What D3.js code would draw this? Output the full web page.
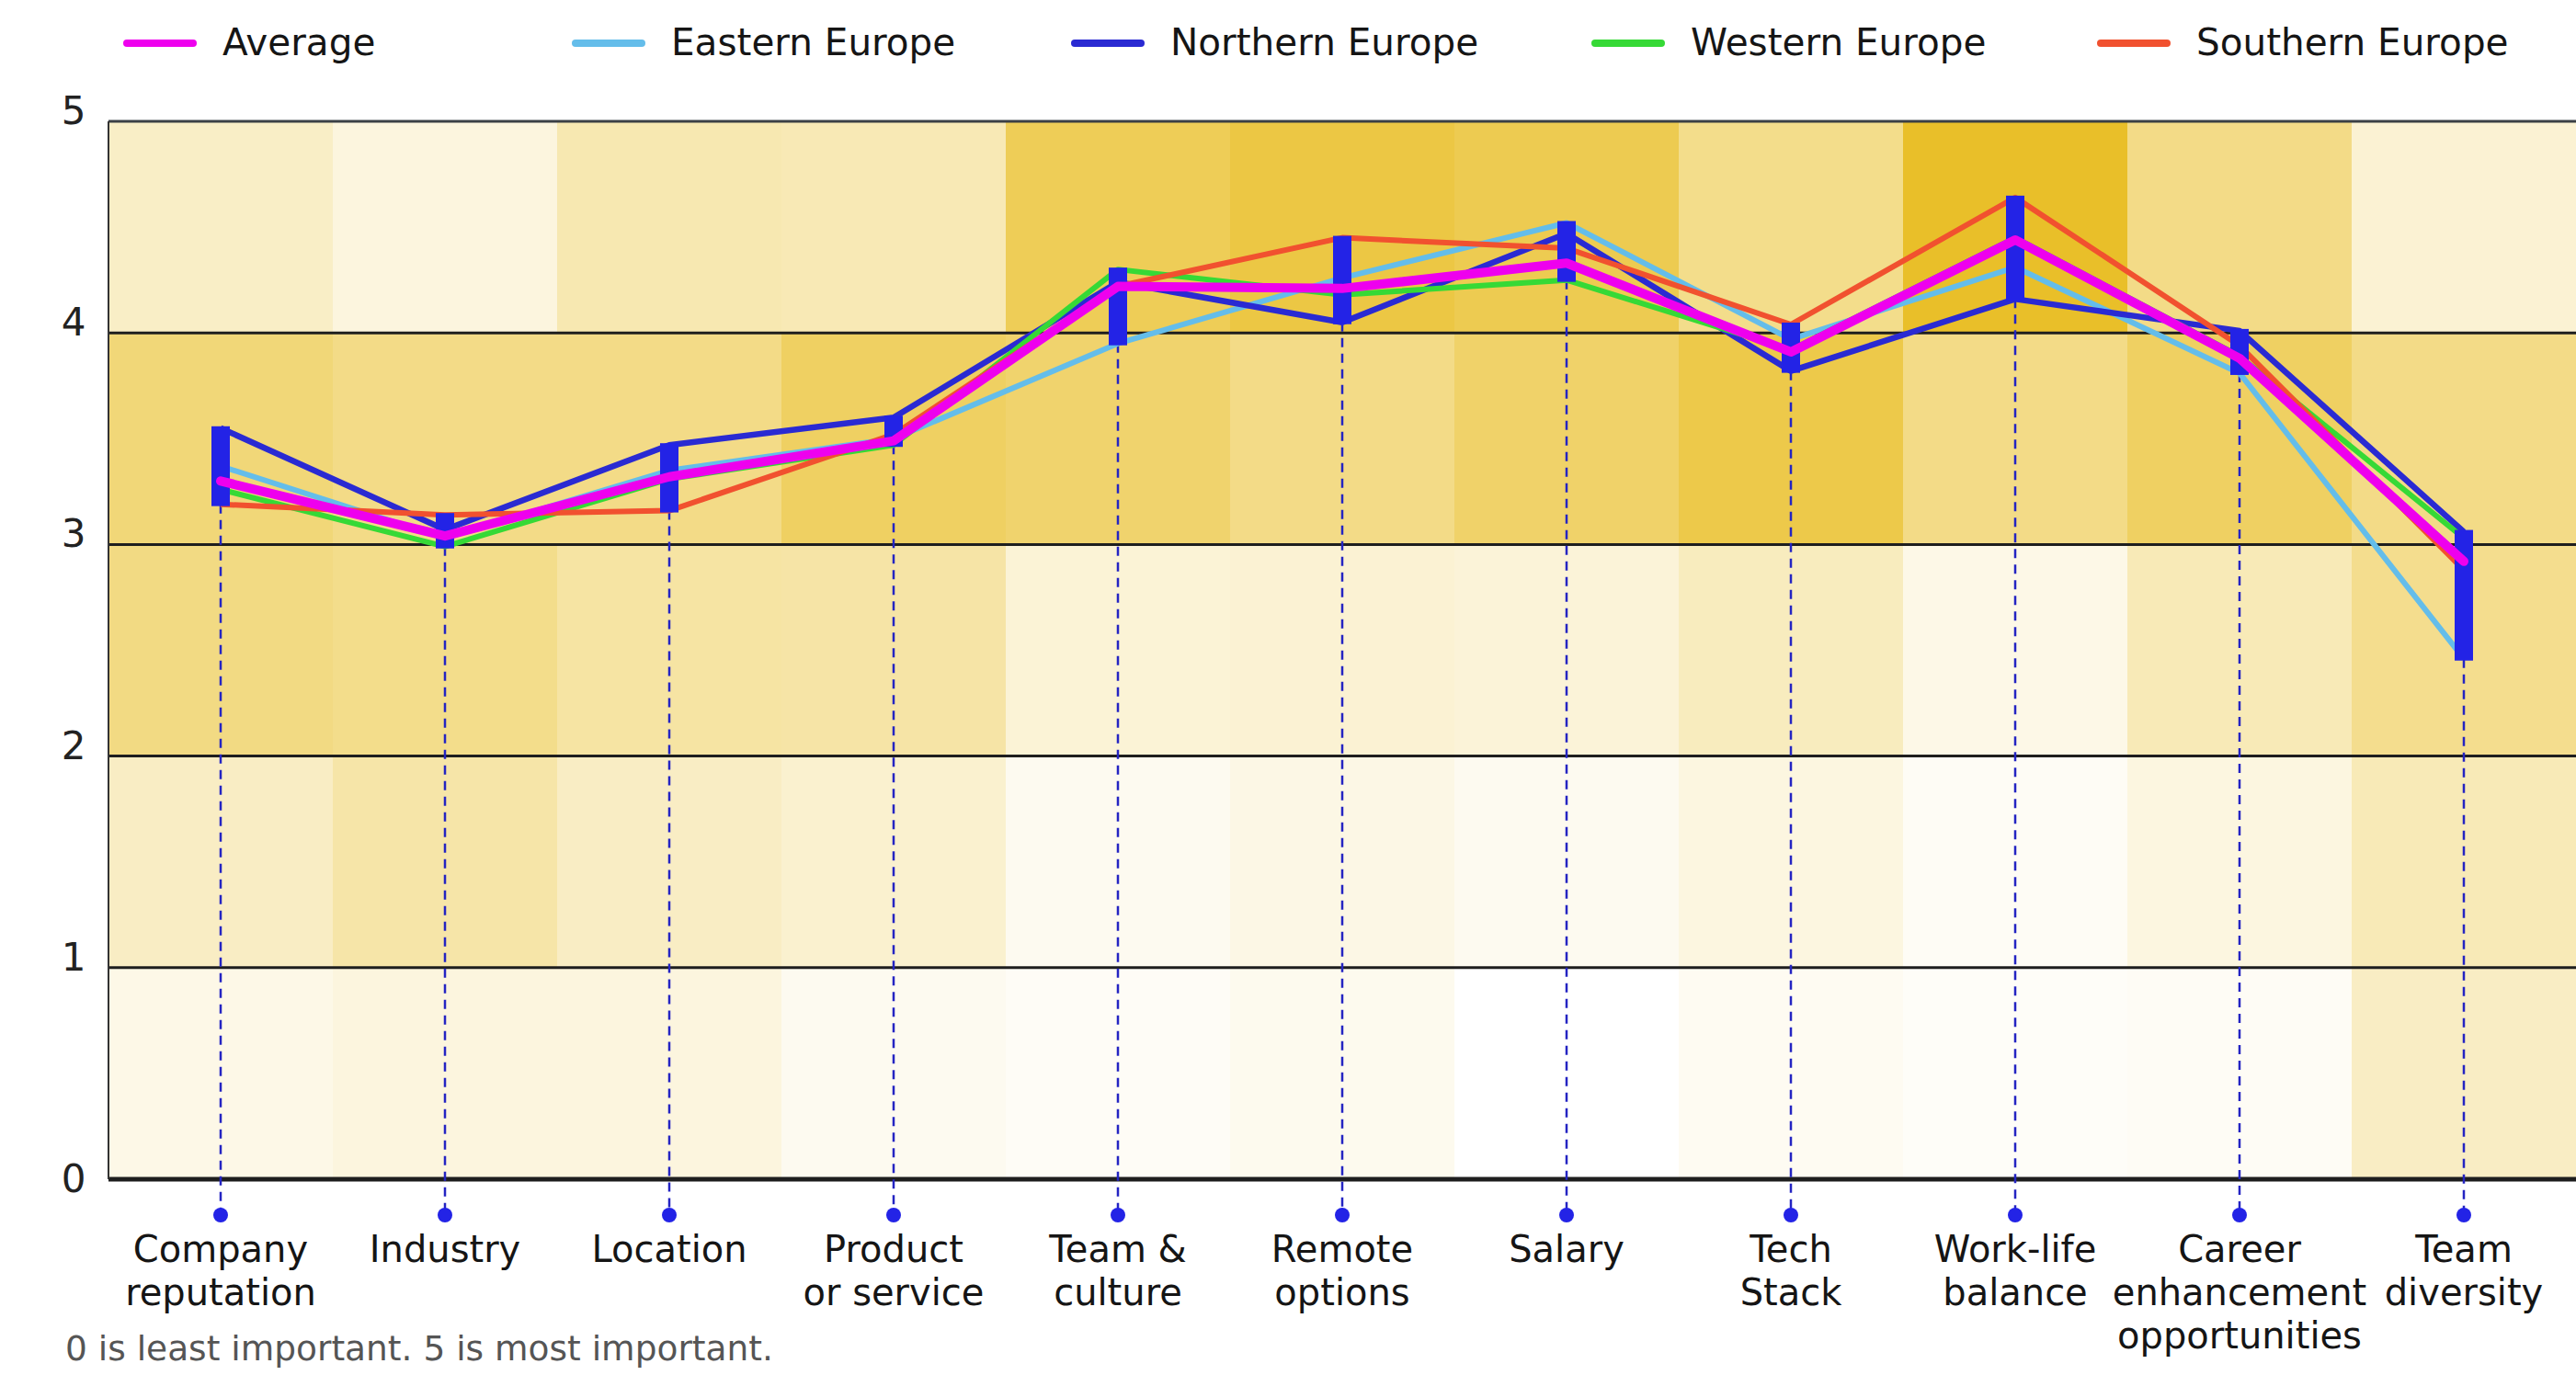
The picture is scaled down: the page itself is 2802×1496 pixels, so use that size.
<!DOCTYPE html>
<html><head><meta charset="utf-8">
<script src="https://cdn.jsdelivr.net/npm/d3@7"></script>
<style>
body{margin:0;background:#fff;}
svg{display:block;font-family:"DejaVu Sans",sans-serif;}
</style>
</head><body>
<svg id="chart" width="2802" height="1496"></svg>
<script>
// ---------- DATA ----------
const categories = ["Company reputation","Industry","Location","Product or service","Team & culture","Remote options","Salary","Tech Stack","Work-life balance","Career enhancement opportunities","Team diversity"];
const categoryLines = [["Company","reputation"],["Industry"],["Location"],["Product","or service"],["Team &","culture"],["Remote","options"],["Salary"],["Tech","Stack"],["Work-life","balance"],["Career","enhancement","opportunities"],["Team","diversity"]];

const seriesNames = ["Average","Eastern Europe","Northern Europe","Western Europe","Southern Europe"];
const average  = [3.30, 3.04, 3.32, 3.49, 4.22, 4.21, 4.33, 3.91, 4.44, 3.88, 2.92];
const eastern  = [3.37, 3.03, 3.35, 3.50, 3.95, 4.26, 4.52, 3.97, 4.31, 3.81, 2.46];
const northern = [3.55, 3.07, 3.47, 3.60, 4.24, 4.05, 4.47, 3.82, 4.16, 4.01, 3.06];
const western  = [3.26, 2.99, 3.31, 3.47, 4.30, 4.18, 4.25, 3.92, 4.45, 3.89, 3.03];
const southern = [3.19, 3.14, 3.16, 3.52, 4.22, 4.45, 4.40, 4.04, 4.64, 3.94, 2.88];

// background shading per score band (0-1 ... 4-5), relative intensity per category
const heatBand0 = [0.11, 0.15, 0.15, 0.07, 0.04, 0.08, 0.00, 0.06, 0.03, 0.045, 0.27];
const heatBand1 = [0.27, 0.40, 0.27, 0.22, 0.07, 0.12, 0.07, 0.14, 0.045, 0.14, 0.33];
const heatBand2 = [0.57, 0.53, 0.42, 0.41, 0.19, 0.20, 0.18, 0.30, 0.11, 0.33, 0.52];
const heatBand3 = [0.62, 0.55, 0.55, 0.72, 0.67, 0.55, 0.69, 0.83, 0.55, 0.72, 0.55];
const heatBand4 = [0.26, 0.15, 0.36, 0.34, 0.77, 0.86, 0.80, 0.53, 0.98, 0.55, 0.20];

const yTicks = [0, 1, 2, 3, 4, 5];
const footnote = "0 is least important. 5 is most important.";

// ---------- STYLE / LAYOUT ----------
const plot = {left: 118, right: 2802, top: 132, bottom: 1283};
const colors = {
  "Average": "#ee00ee",
  "Eastern Europe": "#64bdea",
  "Northern Europe": "#2a2ad2",
  "Western Europe": "#36d936",
  "Southern Europe": "#f1512f"
};
const rangeColor = "#2323e6";

const svg = d3.select("#chart");
const x = d3.scaleBand().domain(categories).range([plot.left, plot.right]).padding(0);
const y = d3.scaleLinear().domain([0, 5]).range([plot.bottom, plot.top]);
const heatColor = d3.scaleLinear().domain([0, 1]).range(["#ffffff", "#e9be25"]).interpolate(d3.interpolateRgb);

const seriesValues = [average, eastern, northern, western, southern];
const series = seriesNames.map((n, i) => ({name: n, values: seriesValues[i]}));
const regions = series.slice(1);

// heatmap cells
const heatBands = [heatBand0, heatBand1, heatBand2, heatBand3, heatBand4];
const cells = [];
heatBands.forEach((band, b) => band.forEach((v, c) => cells.push({band: b, cat: categories[c], v})));
svg.append("g").selectAll("rect").data(cells).join("rect")
  .attr("x", d => x(d.cat))
  .attr("width", x.bandwidth() + 0.5)
  .attr("y", d => y(d.band + 1))
  .attr("height", d => y(d.band) - y(d.band + 1))
  .attr("fill", d => heatColor(d.v));

// gridlines
svg.append("g").selectAll("line").data(yTicks).join("line")
  .attr("x1", plot.left).attr("x2", plot.right)
  .attr("y1", d => y(d)).attr("y2", d => y(d))
  .attr("stroke", d => d === 5 ? "#3b4045" : "#1e1e1e")
  .attr("stroke-width", d => d === 0 ? 5 : 3);
svg.append("line")
  .attr("x1", plot.left).attr("x2", plot.left)
  .attr("y1", y(5)).attr("y2", y(0))
  .attr("stroke", "#333").attr("stroke-width", 2);

// y tick labels
svg.append("g").selectAll("text").data(yTicks).join("text")
  .attr("x", 80)
  .attr("y", d => y(d) + (d === 0 ? 14 : 3))
  .attr("text-anchor", "middle")
  .attr("font-size", 42)
  .attr("fill", "#222")
  .text(d => d);

// range stats
const stats = categories.map((c, i) => {
  const vals = regions.map(s => s.values[i]);
  return {cat: c, min: d3.min(vals), max: d3.max(vals)};
});
const dotY = 1322;

// dashed drop lines
svg.append("g").selectAll("line").data(stats).join("line")
  .attr("x1", d => x(d.cat) + x.bandwidth() / 2)
  .attr("x2", d => x(d.cat) + x.bandwidth() / 2)
  .attr("y1", d => y(d.min))
  .attr("y2", dotY)
  .attr("stroke", "#2424c2")
  .attr("stroke-width", 2.5)
  .attr("stroke-dasharray", "10,7");

// regional lines
const line = d3.line()
  .x((d, i) => x(categories[i]) + x.bandwidth() / 2)
  .y(d => y(d));
svg.append("g").selectAll("path").data(regions).join("path")
  .attr("d", d => line(d.values))
  .attr("fill", "none")
  .attr("stroke", d => colors[d.name])
  .attr("stroke-width", d => d.name === "Northern Europe" ? 6.5 : 6)
  .attr("stroke-linejoin", "round");

// range bars
svg.append("g").selectAll("rect").data(stats).join("rect")
  .attr("x", d => x(d.cat) + x.bandwidth() / 2 - 10)
  .attr("width", 20)
  .attr("y", d => y(d.max) - 2)
  .attr("height", d => y(d.min) - y(d.max) + 4)
  .attr("fill", rangeColor);

// average line on top
svg.append("path")
  .attr("d", line(average))
  .attr("fill", "none")
  .attr("stroke", colors["Average"])
  .attr("stroke-width", 10)
  .attr("stroke-linejoin", "round")
  .attr("stroke-linecap", "round");

// dots
svg.append("g").selectAll("circle").data(stats).join("circle")
  .attr("cx", d => x(d.cat) + x.bandwidth() / 2)
  .attr("cy", dotY)
  .attr("r", 8)
  .attr("fill", rangeColor);

// x labels
const xl = svg.append("g").selectAll("text").data(categories).join("text")
  .attr("x", d => x(d) + x.bandwidth() / 2)
  .attr("y", 1373)
  .attr("text-anchor", "middle")
  .attr("font-size", 40)
  .attr("fill", "#151515");
xl.each(function(d, i) {
  const t = d3.select(this);
  categoryLines[i].forEach((ln, k) => {
    t.append("tspan").attr("x", x(d) + x.bandwidth() / 2).attr("dy", k === 0 ? 0 : 47).text(ln);
  });
});

// legend
const legendX = [134, 622, 1165, 1731, 2281];
const lg = svg.append("g").selectAll("g").data(series).join("g")
  .attr("transform", (d, i) => `translate(${legendX[i]},47)`);
lg.append("line")
  .attr("x1", 4).attr("x2", 76)
  .attr("stroke", d => colors[d.name])
  .attr("stroke-width", 8)
  .attr("stroke-linecap", "round");
lg.append("text")
  .attr("x", 108).attr("y", 13)
  .attr("font-size", 40.5)
  .attr("fill", "#151515")
  .text(d => d.name);

// footnote
svg.append("text")
  .attr("x", 71).attr("y", 1480)
  .attr("font-size", 37.5)
  .attr("fill", "#555")
  .text(footnote);
</script>
</body></html>
